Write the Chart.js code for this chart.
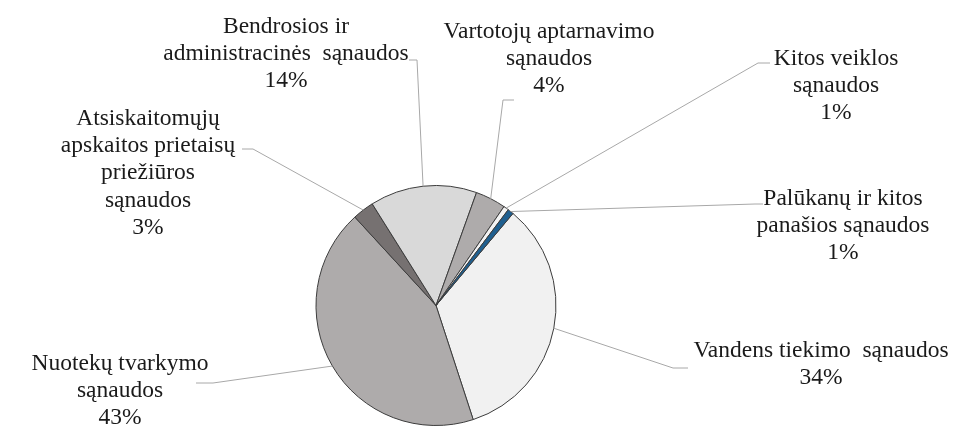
<!DOCTYPE html>
<html>
<head>
<meta charset="utf-8">
<script src="https://cdn.jsdelivr.net/npm/chart.js@4"></script>
<style>
html,body{margin:0;padding:0;background:#ffffff;}
#wrap{width:955px;height:427px;position:relative;}
</style>
</head>
<body>
<div id="wrap"><canvas id="c" width="955" height="427"></canvas></div>
<script>
// ---- data ----
const categories = [
  ["Vandens tiekimo  sąnaudos"],
  ["Nuotekų tvarkymo", "sąnaudos"],
  ["Atsiskaitomųjų", "apskaitos prietaisų", "priežiūros", "sąnaudos"],
  ["Bendrosios ir", "administracinės  sąnaudos"],
  ["Vartotojų aptarnavimo", "sąnaudos"],
  ["Kitos veiklos", "sąnaudos"],
  ["Palūkanų ir kitos", "panašios sąnaudos"]
];
const values = [33.9, 43.2, 2.9, 14.4, 4.1, 0.7, 0.8];
const sliceColors = ["#f1f1f1", "#aeabab", "#767171", "#d9d9d9", "#aeabab", "#f4f4f4", "#1f5f8f"];

// ---- label layout (text block centre x, first baseline y, leader elbow & end) ----
const labelLayout = [
  {x: 821, y: 357, elbow: [673, 368], end: [688, 368]},
  {x: 120, y: 370, elbow: [213, 383], end: [196, 383]},
  {x: 148, y: 125, elbow: [253, 149], end: [242, 149]},
  {x: 286, y: 33,  elbow: [417, 60],  end: [409, 60]},
  {x: 549, y: 38,  elbow: [503, 100], end: [514, 100]},
  {x: 836, y: 65,  elbow: [758, 63],  end: [770, 63]},
  {x: 843, y: 205, elbow: [755, 204], end: [763, 204]}
];

const total = values.reduce((a, b) => a + b, 0);

const labelPlugin = {
  id: 'pieLabels',
  afterDatasetsDraw(chart) {
    const ctx = chart.ctx;
    const meta = chart.getDatasetMeta(0);
    ctx.save();
    meta.data.forEach((arc, i) => {
      const L = labelLayout[i];
      const p = arc.getProps(['x', 'y', 'startAngle', 'endAngle', 'outerRadius'], true);
      const mid = (p.startAngle + p.endAngle) / 2;
      const ax = p.x + Math.cos(mid) * p.outerRadius;
      const ay = p.y + Math.sin(mid) * p.outerRadius;
      ctx.strokeStyle = '#a8a8a8';
      ctx.lineWidth = 1;
      ctx.beginPath();
      ctx.moveTo(ax, ay);
      ctx.lineTo(L.elbow[0], L.elbow[1]);
      ctx.lineTo(L.end[0], L.end[1]);
      ctx.stroke();

      const lines = categories[i].concat([Math.round(values[i] / total * 100) + '%']);
      ctx.fillStyle = '#1a1a1a';
      ctx.font = '23.5px "Liberation Serif", "Times New Roman", serif';
      ctx.textAlign = 'center';
      ctx.textBaseline = 'alphabetic';
      lines.forEach((t, k) => {
        ctx.fillText(t, L.x, L.y + k * 27.2);
      });
    });
    ctx.restore();
  }
};

new Chart(document.getElementById('c'), {
  type: 'pie',
  data: {
    labels: categories.map(c => c.join(' ')),
    datasets: [{
      data: values,
      backgroundColor: sliceColors,
      borderColor: '#3c3c3c',
      borderWidth: 1
    }]
  },
  options: {
    responsive: false,
    maintainAspectRatio: false,
    animation: false,
    rotation: 39.9,
    layout: {padding: {left: 315, right: 398, top: 185, bottom: 1}},
    plugins: {legend: {display: false}, tooltip: {enabled: false}}
  },
  plugins: [labelPlugin]
});
</script>
</body>
</html>
